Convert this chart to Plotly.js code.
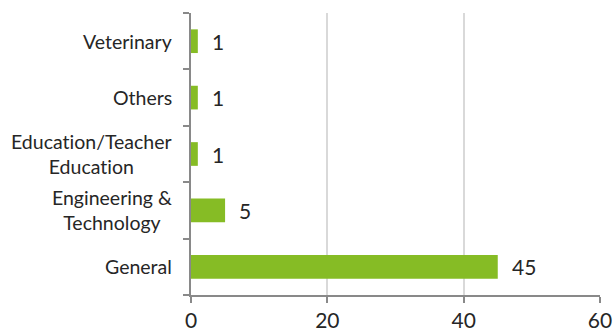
<!DOCTYPE html>
<html>
<head>
<meta charset="utf-8">
<script src="https://cdn.plot.ly/plotly-3.0.1.min.js"></script>
<style>html,body{margin:0;padding:0;background:#fff;}#chart{width:614px;height:336px;}svg text{font-variant-ligatures:none;font-feature-settings:"liga" 0;}</style>
</head>
<body>
<div id="chart"></div>
<script>
const categories = ['General', 'Engineering & Technology', 'Education/Teacher Education', 'Others', 'Veterinary'];
const categoryLabels = ['General', 'Engineering &<br>Technology', 'Education/Teacher<br>Education', 'Others', 'Veterinary'];
const values = [45, 5, 1, 1, 1];
const xTicks = [0, 20, 40, 60];

const FONT = 'Lato, Carlito, Calibri, sans-serif';

const trace = {
  type: 'bar',
  orientation: 'h',
  y: categories,
  x: values,
  marker: {color: '#86BC25', line: {width: 0}},
  hoverinfo: 'none'
};

const annotations = [];
categories.forEach((c, i) => {
  annotations.push({
    xref: 'paper', yref: 'y', x: 0, y: c, xanchor: 'right', yanchor: 'middle',
    xshift: -17, text: categoryLabels[i], showarrow: false, align: 'center',
    font: {family: FONT, size: 19.5, color: '#262626'}
  });
  annotations.push({
    xref: 'x', yref: 'y', x: values[i], y: c, xanchor: 'left', yanchor: 'middle',
    xshift: 12, text: String(values[i]), showarrow: false,
    font: {family: FONT, size: 21, color: '#262626'}
  });
});

const layout = {
  width: 614, height: 336,
  margin: {l: 191, r: 14, t: 13, b: 41},
  paper_bgcolor: '#ffffff', plot_bgcolor: '#ffffff',
  showlegend: false,
  bargap: 0.58,
  font: {family: FONT, color: '#262626'},
  xaxis: {
    range: [0, 60], tickvals: xTicks, ticktext: xTicks.map(String),
    showgrid: true, gridcolor: '#D9D9D9', gridwidth: 2,
    zeroline: false, showline: true, linecolor: '#898989', linewidth: 2,
    ticks: 'outside', ticklen: 6, tickcolor: '#898989', tickwidth: 2,
    tickfont: {family: FONT, size: 21, color: '#262626'}, fixedrange: true
  },
  yaxis: {
    type: 'category', categoryorder: 'array', categoryarray: categories,
    range: [-0.5, 4.5],
    showticklabels: false, showgrid: false, zeroline: false,
    showline: true, linecolor: '#898989', linewidth: 2,
    ticks: 'outside', tickson: 'boundaries', ticklen: 6, tickcolor: '#898989', tickwidth: 2,
    fixedrange: true
  },
  annotations: annotations
};

Plotly.newPlot('chart', [trace], layout, {staticPlot: true, displayModeBar: false});
</script>
</body>
</html>
